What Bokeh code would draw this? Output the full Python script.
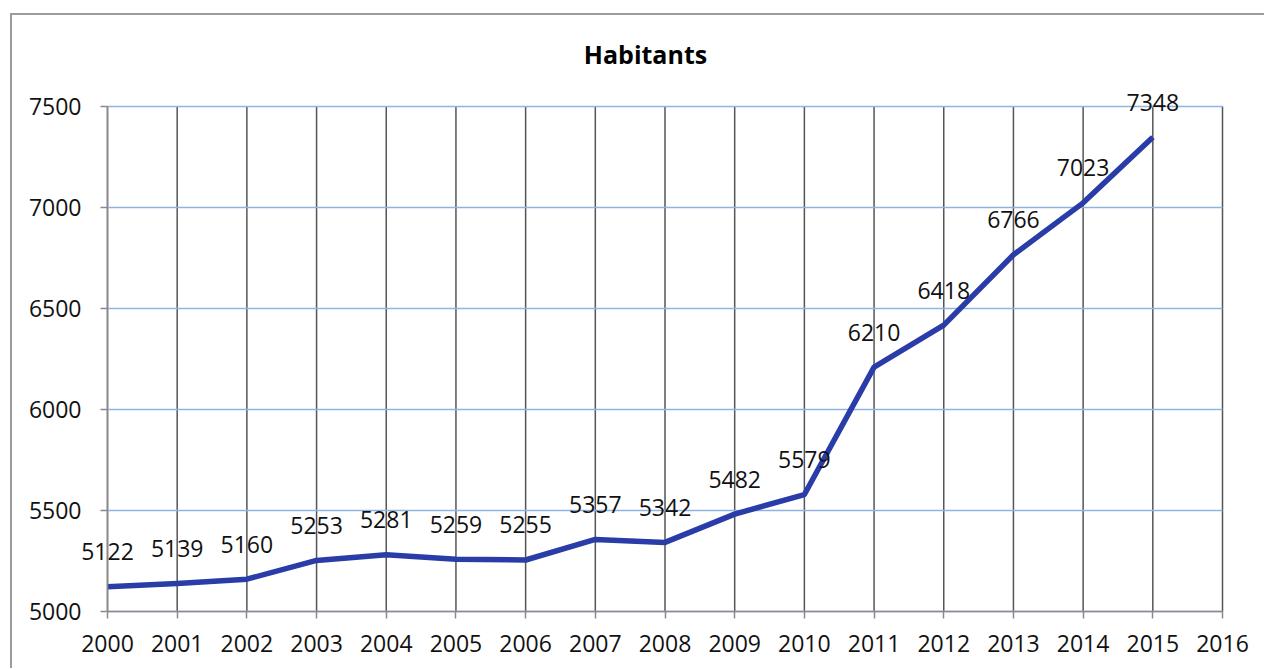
from bokeh.plotting import figure
from bokeh.models import Range1d, FixedTicker, ColumnDataSource, LabelSet, Label
from bokeh.core.properties import value
from bokeh.embed import file_html
from bokeh.resources import INLINE

years = [2000, 2001, 2002, 2003, 2004, 2005, 2006, 2007, 2008, 2009, 2010, 2011, 2012, 2013, 2014, 2015]
habitants = [5122, 5139, 5160, 5253, 5281, 5259, 5255, 5357, 5342, 5482, 5579, 6210, 6418, 6766, 7023, 7348]
x_ticks = list(range(2000, 2017))
y_ticks = [5000, 5500, 6000, 6500, 7000, 7500]
title_text = "Habitants"

FONT = "Open Sans"

# page geometry (pixels inside the figure canvas)
W, H = 1254, 655
X0_PX, X1_PX = 95, 1210      # where first / last x tick fall
Y_TOP_PX, Y_BOT_PX = 91, 596  # where top / bottom y tick fall (from top)
xs, xe = x_ticks[0], x_ticks[-1]
ys, ye = y_ticks[0], y_ticks[-1]
ppx = (X1_PX - X0_PX) / (xe - xs)
ppy = (Y_BOT_PX - Y_TOP_PX) / (ye - ys)
x_range = Range1d(xs - X0_PX / ppx, xe + (W - X1_PX) / ppx)
y_range = Range1d(ys - (H - Y_BOT_PX) / ppy, ye + Y_TOP_PX / ppy)

p = figure(width=W, height=H, output_backend="svg", toolbar_location=None,
           x_range=x_range, y_range=y_range,
           min_border=0, min_border_left=0, min_border_right=0, min_border_top=0, min_border_bottom=0,
           background_fill_color="white", border_fill_color="white")
p.styles = {"margin-left": "10px", "margin-top": "13px",
            "border-left": "2px solid #9c9c9c", "border-top": "2px solid #9c9c9c"}
p.outline_line_color = None
p.grid.visible = False

# grid lines limited to the axis extents
p.segment(x0=x_ticks, y0=[ys] * len(x_ticks), x1=x_ticks, y1=[ye] * len(x_ticks),
          line_color="#555555", line_width=1.5)
p.segment(x0=[xs] * len(y_ticks), y0=y_ticks, x1=[xe] * len(y_ticks), y1=y_ticks,
          line_color="#8fb3e3", line_width=1.5)

src = ColumnDataSource(dict(x=years, y=habitants, lbl=[str(v) for v in habitants]))
p.line("x", "y", source=src, line_color="#2a3ca8", line_width=5.5, line_join="round")
labels = LabelSet(x="x", y="y", text="lbl", source=src, text_font=value(FONT),
                  text_font_size="23px", text_align="center", text_baseline="middle",
                  y_offset=35, text_color="#111111")
p.add_layout(labels)

title = Label(x=xs + (645 - 107) / ppx, y=ye + (106 - 53) / ppy, text=title_text,
              text_font=FONT, text_font_size="25px", text_font_style="bold",
              text_align="center", text_baseline="middle", text_color="#000000")
p.add_layout(title)

for ax in (p.xaxis[0], p.yaxis[0]):
    ax.axis_line_color = "#8a8a8a"
    ax.axis_line_width = 1.5
    ax.major_tick_line_color = "#8a8a8a"
    ax.major_tick_line_width = 1.5
    ax.major_tick_out = 7
    ax.major_tick_in = 0
    ax.minor_tick_line_color = None
    ax.major_label_text_font = FONT
    ax.major_label_text_font_size = "23px"
    ax.major_label_text_color = "#111111"

p.xaxis.ticker = FixedTicker(ticks=x_ticks)
p.yaxis.ticker = FixedTicker(ticks=y_ticks)
p.xaxis.bounds = (xs, xe)
p.yaxis.bounds = (ys, ye)
p.xaxis.fixed_location = ys
p.yaxis.fixed_location = xs
p.xaxis.major_label_standoff = 16
p.yaxis.major_label_standoff = 19

open("out.html", "w").write(file_html(p, INLINE))
